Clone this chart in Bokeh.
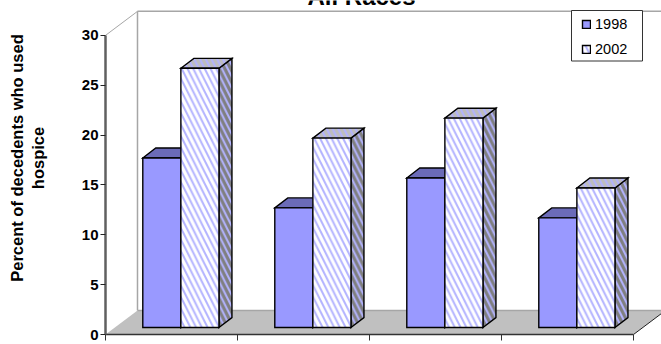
import math

from bokeh.core.properties import value
from bokeh.embed import file_html
from bokeh.models import BoxAnnotation, Label, Legend, LegendItem, Range1d
from bokeh.plotting import figure
from bokeh.resources import INLINE

# Percent of decedents who used hospice, by group and year
groups = [0, 1, 2, 3]
values_1998 = [17, 12, 15, 11]
values_2002 = [26, 19, 21, 14]
series_names = ["1998", "2002"]
y_ticks = [0, 5, 10, 15, 20, 25, 30]
x_ticks = [0, 1, 2, 3, 4]
axis_caption = ["Percent of decedents who used", "hospice"]

FONT = "Liberation Sans"
PERI = "#9999ff"
PX_X = 132
PX_Y = 9.97
ORIGIN_X = 105
ORIGIN_Y = 334

# Pseudo-3D geometry in data units
BAR_W = 0.2885
BAR_GAP = 0.2825
BASE = 0.7
DX, DY = 0.0985, 1.0
WALL_DX, WALL_DY = 0.2424, 2.41
WALL_TOP = 32.41

p = figure(
    width=661, height=344, frame_width=661, frame_height=344,
    output_backend="svg", toolbar_location=None,
    x_range=Range1d(-ORIGIN_X / PX_X, (661 - ORIGIN_X) / PX_X),
    y_range=Range1d((ORIGIN_Y - 344) / PX_Y, ORIGIN_Y / PX_Y),
    min_border_left=0, min_border_right=0, min_border_top=0, min_border_bottom=0,
    background_fill_color="white", border_fill_color="white", outline_line_color=None,
)
p.grid.visible = False

# Walls and floor
p.line([WALL_DX, WALL_DX], [WALL_DY, WALL_TOP], line_color="#a6a6a6", line_width=1.5)
p.line([WALL_DX, 5], [WALL_TOP, WALL_TOP], line_color="#a6a6a6", line_width=1.5)
p.line([0, WALL_DX], [30, WALL_TOP], line_color="#a6a6a6", line_width=1)
p.patch([0, WALL_DX, 4 + WALL_DX, 4], [0, WALL_DY, WALL_DY, 0],
        fill_color="#c0c0c0", line_color=None)
p.line([WALL_DX, 4.3], [WALL_DY, WALL_DY], line_color="#a6a6a6", line_width=1.5)
p.line([4, 4 + WALL_DX], [0, WALL_DY], line_color="#222222", line_width=1)

outline = dict(line_color="#000000", line_width=1.4, line_join="miter")
hatch = dict(hatch_pattern="left_diagonal_line", hatch_color="#b3b3ff", hatch_scale=11.5, hatch_weight=2)


def draw_bar(left, height_value, front, top, side, hatched):
    """Draw one box: side face, top face, then front face."""
    right = left + BAR_W
    height = BASE + height_value
    extra = hatch if hatched else {}
    p.patch([right, right + DX, right + DX, right],
            [BASE, BASE + DY, height + DY, height],
            fill_color=side, **outline, **extra)
    p.patch([left, left + DX, right + DX, right],
            [height, height + DY, height + DY, height],
            fill_color=top, **outline, **extra)
    return p.quad(left=left, right=right, bottom=BASE, top=height,
                  fill_color=front, **outline, **extra)


r_1998 = r_2002 = None
for g, a, b in zip(groups, values_1998, values_2002):
    r_1998 = draw_bar(g + BAR_GAP, a, PERI, "#6b6bb8", "#6b6b9e", False)
    r_2002 = draw_bar(g + BAR_GAP + BAR_W, b, "#ffffff", "#bdbdbd", "#7f7f7f", True)

# Axes: both sit inside the frame, crossing at the origin
ya = p.yaxis[0]
ya.fixed_location = 0
ya.bounds = (0, 30)
ya.ticker = y_ticks
ya.axis_line_color = "#606060"
ya.axis_line_width = 2.5
ya.major_tick_line_color = "#222222"
ya.major_tick_in = 0
ya.major_tick_out = 5
ya.minor_tick_line_color = None
ya.major_label_text_font = FONT
ya.major_label_text_font_style = "bold"
ya.major_label_text_font_size = "15px"
ya.major_label_text_color = "#000000"
ya.major_label_standoff = 2

xa = p.xaxis[0]
xa.fixed_location = 0
xa.bounds = (0, 4)
xa.ticker = x_ticks
xa.major_label_overrides = {t: "" for t in x_ticks}
xa.axis_line_color = "#333333"
xa.axis_line_width = 1.5
xa.major_tick_line_color = "#333333"
xa.major_tick_in = 0
xa.major_tick_out = 6
xa.minor_tick_line_color = None

# Legend frame, with the entries laid over it
p.add_layout(BoxAnnotation(
    left=(571 - ORIGIN_X) / PX_X, right=(642 - ORIGIN_X) / PX_X,
    top=(ORIGIN_Y - 10) / PX_Y, bottom=(ORIGIN_Y - 60.5) / PX_Y,
    fill_color="white", fill_alpha=1, line_color="#333333", line_width=1, line_alpha=1,
))
legend = Legend(
    items=[LegendItem(label=series_names[0], renderers=[r_1998]),
           LegendItem(label=series_names[1], renderers=[r_2002])],
    location=(581, 286), orientation="vertical",
    glyph_width=10, glyph_height=10, spacing=7, padding=3, margin=0,
    label_text_font=FONT, label_text_font_size="14.5px", label_standoff=4,
    label_text_color="#000000", label_height=18,
    border_line_color=None, background_fill_alpha=0,
)
p.add_layout(legend, "center")

# Title at the very top edge of the page
p.add_layout(Label(x=361, y=-4.5, x_units="canvas", y_units="canvas",
                   text="All Races", text_font=FONT, text_font_style="bold",
                   text_font_size="24px", text_align="center", text_baseline="alphabetic",
                   text_color="#000000"))

# Two-line caption of the value axis
caption_x = [(16.5 - ORIGIN_X) / PX_X, (37.5 - ORIGIN_X) / PX_X]
caption_y = [(ORIGIN_Y - 157.5) / PX_Y] * 2
p.text(caption_x, caption_y, text=axis_caption, angle=math.pi / 2,
       text_font=value(FONT), text_font_style="bold", text_font_size="16.5px",
       text_align="center", text_baseline="middle", text_color="#000000")

open("out.html", "w").write(file_html(p, INLINE))
